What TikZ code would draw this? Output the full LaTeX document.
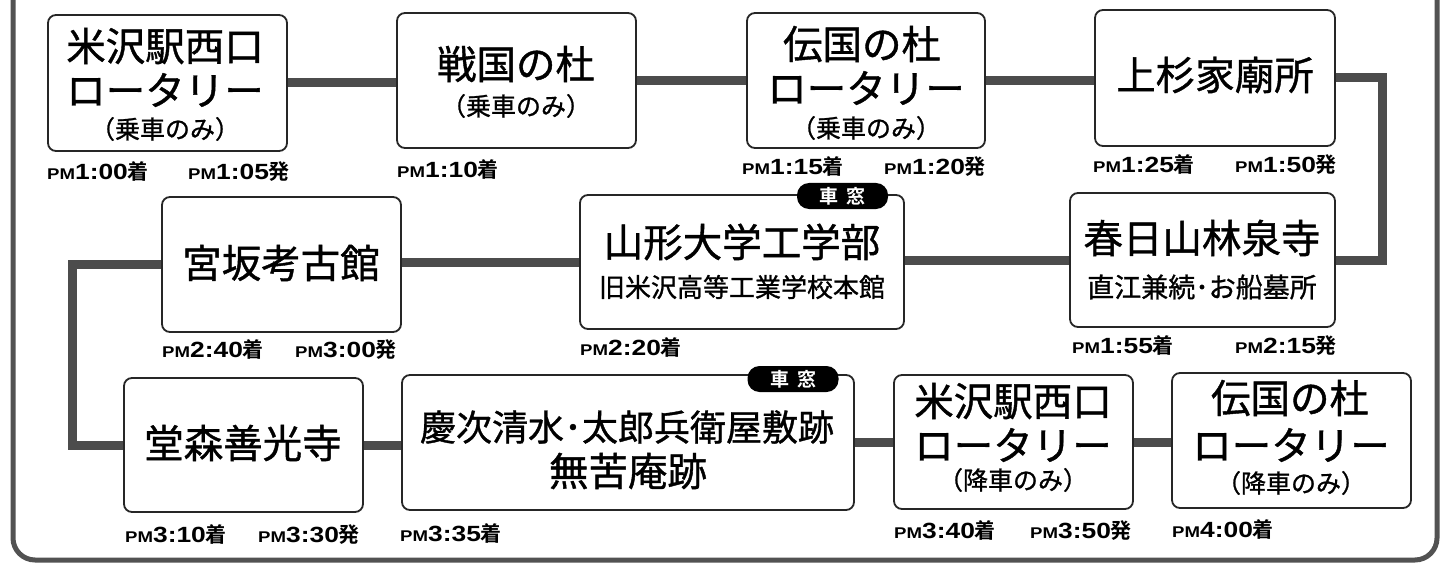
\documentclass[tikz,border=0pt]{standalone}
\usepackage{fontspec}
\setmainfont{Noto Sans CJK JP}[BoldFont={Noto Sans CJK JP Bold}]
\newfontfamily\jpm{Noto Sans CJK JP}[FakeBold=1.0]
\newfontfamily\latf{Liberation Sans}[FakeStretch=1.2]
\newcommand\pmtime[2]{{\latf\bfseries\fontsize{15.5}{15.5}\selectfont PM}{\latf\bfseries\fontsize{22}{22}\selectfont #1}{\bfseries\fontsize{21}{21}\selectfont #2}}
\tikzset{
 box/.style={draw=black!85, line width=1.8pt, rounded corners=8pt, fill=white, inner sep=0pt},
 conn/.style={draw=black!70, line width=9pt},
 big/.style={inner sep=0pt, font=\jpm\fontsize{39.5}{41}\selectfont},
 mid/.style={inner sep=0pt, font=\jpm\fontsize{27}{29}\selectfont},
 small/.style={inner sep=0pt, font=\jpm\fontsize{25}{27}\selectfont},
 tm/.style={inner sep=0pt, anchor=base west},
 tag/.style={fill=black, rounded corners=12pt, minimum width=91pt, minimum height=26pt, inner sep=0pt, text=white, font=\bfseries\fontsize{19}{19}\selectfont},
 frame/.style={draw=black!68, line width=5pt, rounded corners=22pt}
}
\begin{document}
\begin{tikzpicture}[x=1pt,y=-1pt]
\useasboundingbox (0,0) rectangle (1442,564);
\clip (0,0) rectangle (1442,564);
\fill[white] (0,0) rectangle (1442,564);
\draw[frame] (13,-40) rectangle (1437,560);
% boxes
\node[box, minimum width=239pt, minimum height=136pt] (A) at (167.5,83) {};
\node[box, minimum width=239pt, minimum height=135pt] (B) at (516.5,80.5) {};
\node[box, minimum width=238pt, minimum height=135pt] (C) at (866,80.5) {};
\node[box, minimum width=240pt, minimum height=136pt] (D) at (1215,78) {};
\node[box, minimum width=265pt, minimum height=134pt] (E) at (1202.5,260) {};
\node[box, minimum width=324pt, minimum height=134pt] (F) at (742,262) {};
\node[box, minimum width=239pt, minimum height=135pt] (G) at (281.5,264.5) {};
\node[box, minimum width=239pt, minimum height=134pt] (H) at (243.5,445) {};
\node[box, minimum width=452pt, minimum height=135pt] (I) at (628,442.5) {};
\node[box, minimum width=239pt, minimum height=134pt] (J) at (1013.5,442) {};
\node[box, minimum width=239pt, minimum height=135pt] (K) at (1291.5,440.5) {};
% connectors
\draw[conn] (A.east) -- (B.west |- A.east);
\draw[conn] (B.east) -- (C.west |- B.east);
\draw[conn] (C.east) -- (D.west |- C.east);
\draw[conn] (D.east) -- ++(47,0) |- (E.east);
\draw[conn] (E.west) -- (F.east |- E.west);
\draw[conn] (F.west) -- (G.east |- F.west);
\draw[conn] (G.west) -- ++(-89,0) |- (H.west);
\draw[conn] (H.east) -- (I.west |- H.east);
\draw[conn] (I.east) -- (J.west |- I.east);
\draw[conn] (J.east) -- (K.west |- J.east);
% tags
\node[tag] (Ftag) at (842.5,196) {車\hspace{8pt}窓};
\node[tag] (Itag) at (793,379) {車\hspace{8pt}窓};
% texts
\node[big] (A1) at (165,46) {米沢駅西口};
\node[big] (A2) at (165,90) {ロータリー};
\node[small] (A3) at (165,129) {（乗車のみ）};
\node[big] (B1) at (516,64) {戦国の杜};
\node[small] (B2) at (516,106) {（乗車のみ）};
\node[big] (C1) at (862,44) {伝国の杜};
\node[big] (C2) at (866,88) {ロータリー};
\node[small] (C3) at (866,128) {（乗車のみ）};
\node[big] (D1) at (1215,75) {上杉家廟所};
\node[big] (E1) at (1202,238) {春日山林泉寺};
\node[mid] (E2) at (1202,287) {直江兼続･お船墓所};
\node[big] (F1) at (742,242) {山形大学工学部};
\node[mid, font=\jpm\fontsize{26}{28}\selectfont] (F2) at (742,287) {旧米沢高等工業学校本館};
\node[big] (G1) at (281,263) {宮坂考古館};
\node[big] (H1) at (243,443) {堂森善光寺};
\node[big, font=\jpm\fontsize{36}{38}\selectfont] (I1) at (627,427) {慶次清水･太郎兵衛屋敷跡};
\node[big] (I2) at (628,471) {無苦庵跡};
\node[big] (J1) at (1013,401) {米沢駅西口};
\node[big] (J2) at (1013,445) {ロータリー};
\node[small] (J3) at (1013,480) {（降車のみ）};
\node[big] (K1) at (1290,398) {伝国の杜};
\node[big] (K2) at (1291,445) {ロータリー};
\node[small] (K3) at (1291,483) {（降車のみ）};
% times
\node[tm] (tA1) at (47,180) {\pmtime{1:00}{着}};
\node[tm] (tA2) at (188,180) {\pmtime{1:05}{発}};
\node[tm] (tB1) at (397,178) {\pmtime{1:10}{着}};
\node[tm] (tC1) at (742,175) {\pmtime{1:15}{着}};
\node[tm] (tC2) at (884,175) {\pmtime{1:20}{発}};
\node[tm] (tD1) at (1093,173) {\pmtime{1:25}{着}};
\node[tm] (tD2) at (1235,173) {\pmtime{1:50}{発}};
\node[tm] (tG1) at (162,357) {\pmtime{2:40}{着}};
\node[tm] (tG2) at (295,357) {\pmtime{3:00}{発}};
\node[tm] (tF1) at (580,355) {\pmtime{2:20}{着}};
\node[tm] (tE1) at (1072,353) {\pmtime{1:55}{着}};
\node[tm] (tE2) at (1235,353) {\pmtime{2:15}{発}};
\node[tm] (tH1) at (125,542) {\pmtime{3:10}{着}};
\node[tm] (tH2) at (258,542) {\pmtime{3:30}{発}};
\node[tm] (tI1) at (400,541) {\pmtime{3:35}{着}};
\node[tm] (tJ1) at (894,538) {\pmtime{3:40}{着}};
\node[tm] (tJ2) at (1030,538) {\pmtime{3:50}{発}};
\node[tm] (tK1) at (1172,537) {\pmtime{4:00}{着}};
\end{tikzpicture}
\end{document}
